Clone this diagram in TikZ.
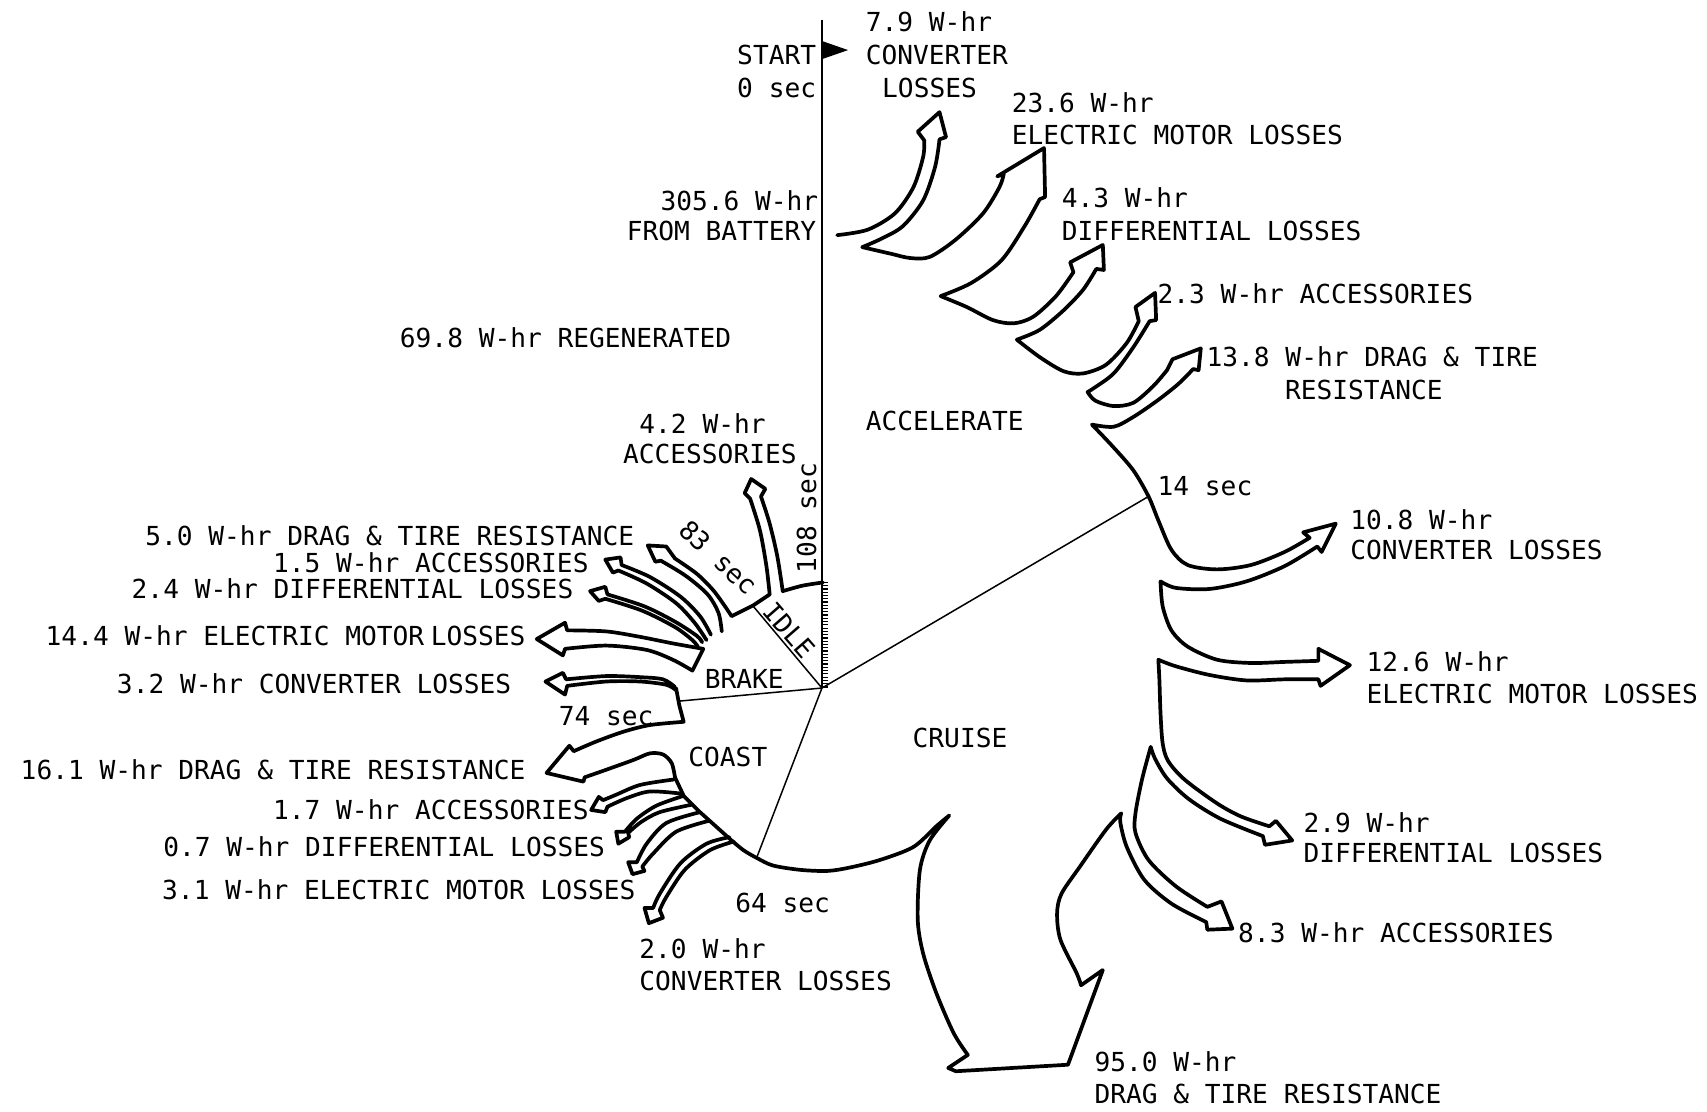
\documentclass[tikz,border=0pt]{standalone}
\usepackage{fontspec}
\newfontfamily\monofnt{DejaVu Sans Mono}
\begin{document}
\begin{tikzpicture}[x=0.5444pt,y=-0.5444pt,
  outl/.style={line width=1.85pt,line join=round,line cap=round},
  divider/.style={line width=0.75pt},
  lbl/.style={font=\monofnt\fontsize{13.1}{15}\selectfont,inner sep=0pt},
  lw/.style={lbl,anchor=base west},
  le/.style={lbl,anchor=base east}]
\fill[white] (0,0) rectangle (1568,1021);
\useasboundingbox (0,0) rectangle (1568,1021);

% axis, start arrow, ticks
\draw[line width=1.3pt] (755,18) -- (755,632);
\fill[line join=round] (756,38) -- (779,46) -- (756,54) -- cycle;
\foreach \k in {0,...,32} \draw[line width=0.6pt] (755,{535+3*\k}) -- (761,{535+3*\k});

% sector dividers
\coordinate (C) at (755,632);
\draw[divider] (C) -- (1055,456);
\draw[divider] (C) -- (692,557);
\draw[divider] (C) -- (624,644);
\draw[divider] (C) -- (695,788);

% right-hand outline (accelerate and cruise)
\draw[outl] plot[smooth] coordinates {(769,216) (797,211) (822,196) (839,172) (848,144) (849,129)}
 -- (843,121) -- (863,103) -- (869,126) -- (863,128)
 -- plot[smooth] coordinates {(863,128) (859,153) (848,184) (829,208) (808,220) (792,227)}
 -- plot[smooth] coordinates {(792,227) (818,233) (836,237) (854,236) (878,220) (903,196) (918,172) (922,160)}
 -- (916,162) -- (959,136) -- (960,181) -- (955,183)
 -- plot[smooth] coordinates {(955,183) (941,208) (920,239) (892,260) (864,272)}
 -- plot[smooth] coordinates {(864,272) (888,282) (912,294) (931,297) (949,291) (970,272) (986,250)}
 -- (983,241) -- (1013,225) -- (1014,248) -- (1007,247)
 -- plot[smooth] coordinates {(1007,247) (995,266) (977,285) (955,303) (934,312)}
 -- plot[smooth] coordinates {(934,312) (955,328) (977,341) (995,343) (1016,335) (1035,315) (1046,295)}
 -- (1043,282) -- (1061,269) -- (1062,294) -- (1056,295)
 -- plot[smooth] coordinates {(1056,295) (1041,319) (1023,343) (1004,357) (999,360)}
 -- plot[smooth] coordinates {(999,360) (1006,368) (1023,373) (1041,370) (1059,355) (1072,340)}
 -- (1077,330) -- (1103,320) -- (1101,340) -- (1096,339)
 -- plot[smooth] coordinates {(1096,339) (1082,353) (1063,368) (1041,383) (1023,392) (1003,390)}
 -- plot[smooth] coordinates {(1003,390) (1022,410) (1041,432) (1055,456) (1064,478) (1076,505) (1091,519) (1118,523) (1149,519) (1180,507) (1203,494)}
 -- (1197,489) -- (1227,481) -- (1214,507) -- (1210,502)
 -- plot[smooth] coordinates {(1210,502) (1180,520) (1145,534) (1111,541) (1080,540) (1066,534)}
 -- plot[smooth] coordinates {(1066,534) (1068,557) (1076,579) (1091,594) (1118,606) (1149,609) (1180,608) (1211,607)}
 -- (1211,596) -- (1240,611) -- (1213,630) -- (1211,624)
 -- plot[smooth] coordinates {(1211,624) (1180,624) (1145,625) (1111,620) (1080,612) (1064,606)}
 -- plot[smooth] coordinates {(1064,606) (1065,625) (1066,655) (1068,683) (1073,699) (1088,716) (1118,738) (1140,750) (1166,759)}
 -- (1172,754) -- (1187,772) -- (1162,776) -- (1160,768)
 -- plot[smooth] coordinates {(1160,768) (1121,752) (1092,734) (1072,715) (1061,697) (1057,686)}
 -- plot[smooth] coordinates {(1057,686) (1049,716) (1043,747) (1043,765) (1055,790) (1080,814) (1109,833)}
 -- (1122,828) -- (1132,853) -- (1109,854) -- (1108,847)
 -- plot[smooth] coordinates {(1108,847) (1076,830) (1051,808) (1035,778) (1029,755) (1030,747)}
 -- plot[smooth] coordinates {(1030,747) (1016,762) (992,796) (975,821) (971,839) (974,863) (989,894) (993,905)}
 -- (1013,891) -- (981,978) -- (878,984) -- (871,981) -- (889,969)
 -- plot[smooth] coordinates {(889,969) (876,949) (860,912) (848,876) (843,845) (845,799) (854,772) (872,749)}
 -- plot[smooth] coordinates {(872,749) (860,759) (839,778) (808,790) (780,797) (760,800) (735,799) (710,795) (695,788) (683,781) (672,772)};

% coast side
\draw[outl] (672,772) -- (643,746) -- (628,731) -- (620,714);
\draw[outl] (621,632) -- (624,648) -- (628,663)
 -- plot[smooth] coordinates {(628,663) (597,666) (573,672) (548,681) (527,690)}
 -- (523,685) -- (502,710) -- (536,718) -- (537,714)
 -- plot[smooth] coordinates {(537,714) (557,707) (582,698) (597,692) (609,693) (617,701) (620,714)};
\draw[outl] plot[smooth] coordinates {(619,716) (588,721) (566,730) (554,735)}
 -- (550,732) -- (543,744) -- (556,746)
 -- plot[smooth] coordinates {(558,741) (576,733) (597,727) (626,729)};
\draw[outl] plot[smooth] coordinates {(628,731) (603,740) (585,752) (574,764)}
 -- (566,764) -- (568,775) -- (578,769)
 -- plot[smooth] coordinates {(577,765) (589,755) (606,746) (636,739)};
\draw[outl] plot[smooth] coordinates {(643,746) (612,756) (594,775) (585,792)}
 -- (577,792) -- (581,803) -- (592,800)
 -- plot[smooth] coordinates {(590,796) (600,784) (621,764) (651,754)};
\draw[outl] plot[smooth] coordinates {(670,769) (649,775) (625,793) (606,821) (600,834)}
 -- (592,834) -- (596,848) -- (609,843)
 -- plot[smooth] coordinates {(606,836) (612,824) (629,799) (652,781) (674,773)};

% brake side
\draw[outl] plot[smooth] coordinates {(621,634) (612,629) (588,626) (557,626) (521,630)}
 -- (519,638) -- (501,626) -- (517,618)
 -- plot[smooth] coordinates {(520,624) (557,621) (588,622) (609,624) (620,631)};
\draw[outl] plot[smooth] coordinates {(646,596) (618,591) (588,585) (557,580) (521,579)}
 -- (519,572) -- (493,587) -- (517,602)
 -- plot[smooth] coordinates {(519,596) (557,593) (594,597) (618,606) (636,616)} -- cycle;
\draw[outl] plot[smooth] coordinates {(645,590) (640,584) (620,571) (592,557) (558,546)}
 -- (556,539) -- (542,543) -- (550,552)
 -- plot[smooth] coordinates {(556,550) (590,561) (620,576) (636,588) (641,594)};
\draw[outl] plot[smooth] coordinates {(653,583) (643,566) (625,548) (597,530) (571,519)}
 -- (570,512) -- (556,514) -- (563,526)
 -- plot[smooth] coordinates {(568,524) (594,536) (621,554) (638,572) (649,588)};

% idle arrow and 5.0 arrow
\draw[outl] plot[smooth] coordinates {(756,535) (737,538) (719,543)}
 -- plot[smooth] coordinates {(719,543) (714,511) (707,481) (699,456)}
 -- (703,449) -- (690,440) -- (684,453)
 -- plot[smooth] coordinates {(689,458) (698,487) (704,520) (707,546)}
 -- (692,556) -- (672,566)
 -- plot[smooth] coordinates {(672,566) (666,557) (655,542) (640,527) (620,513)}
 -- (612,502) -- (595,501) -- (602,516)
 -- plot[smooth] coordinates {(607,515) (630,529) (650,546) (660,563) (663,580)};

% labels
\node[le] (start) at (750,59) {START};
\node[le] (zerosec) at (750,90) {0 sec};
\node[le] (batA) at (752,193) {305.6 W-hr};
\node[le] (batB) at (750,221) {FROM BATTERY};
\node[lw] (cvA) at (795,29) {7.9 W-hr};
\node[lw] (cvB) at (795,59) {CONVERTER};
\node[lw] (cvC) at (810,90) {LOSSES};
\node[lw] (emA) at (929,103) {23.6 W-hr};
\node[lw] (emB) at (929,133) {ELECTRIC MOTOR LOSSES};
\node[lw] (dfA) at (975,191) {4.3 W-hr};
\node[lw] (dfB) at (975,221) {DIFFERENTIAL LOSSES};
\node[lw] (acA) at (1063,279) {2.3 W-hr ACCESSORIES};
\node[lw] (drA) at (1108,337) {13.8 W-hr DRAG \& TIRE};
\node[lw] (drB) at (1180,367) {RESISTANCE};
\node[lw] (accel) at (795,395) {ACCELERATE};
\node[lw] (regen) at (367,319) {69.8 W-hr REGENERATED};
\node[lw] (s14) at (1063,455) {14 sec};
\node[lw] (ccA) at (1240,486) {10.8 W-hr};
\node[lw] (ccB) at (1240,514) {CONVERTER LOSSES};
\node[lw] (cmA) at (1255,617) {12.6 W-hr};
\node[lw] (cmB) at (1255,646) {ELECTRIC MOTOR LOSSES};
\node[lw] (cruise) at (838,687) {CRUISE};
\node[lw] (cdA) at (1197,765) {2.9 W-hr};
\node[lw] (cdB) at (1197,792) {DIFFERENTIAL LOSSES};
\node[lw] (caA) at (1137,866) {8.3 W-hr ACCESSORIES};
\node[lw] (ctA) at (1005,984) {95.0 W-hr};
\node[lw] (ctB) at (1005,1014) {DRAG \& TIRE RESISTANCE};
\node[lw] (s64) at (675,838) {64 sec};
\node[lw] (kcA) at (587,880) {2.0 W-hr};
\node[lw] (kcB) at (587,910) {CONVERTER LOSSES};
\node[lw] (coast) at (632,704) {COAST};
\node[lw] (s74) at (513,666) {74 sec};
\node[lw] (brake) at (647,632) {BRAKE};
\node[lw] (iaA) at (587,398) {4.2 W-hr};
\node[lw] (iaB) at (572,426) {ACCESSORIES};
\node[le] (bdr) at (583,501) {5.0 W-hr DRAG \& TIRE RESISTANCE};
\node[le] (bac) at (541,526) {1.5 W-hr ACCESSORIES};
\node[le] (bdf) at (527,550) {2.4 W-hr DIFFERENTIAL LOSSES};
\node[le] (bem) at (483,593) {14.4 W-hr ELECTRIC MOTOR\hspace{0.25em}LOSSES};
\node[le] (bcv) at (470,637) {3.2 W-hr CONVERTER LOSSES};
\node[le] (kdr) at (483,716) {16.1 W-hr DRAG \& TIRE RESISTANCE};
\node[le] (kac) at (541,753) {1.7 W-hr ACCESSORIES};
\node[le] (kdf) at (556,787) {0.7 W-hr DIFFERENTIAL LOSSES};
\node[le] (kem) at (584,826) {3.1 W-hr ELECTRIC MOTOR LOSSES};
\node[lbl,rotate=90] (s108) at (741,476) {108 sec};
\node[lbl,rotate=-43] (s83) at (660,512) {83 sec};
\node[lbl,rotate=-49] (idle) at (725,579) {IDLE};
\end{tikzpicture}
\end{document}
